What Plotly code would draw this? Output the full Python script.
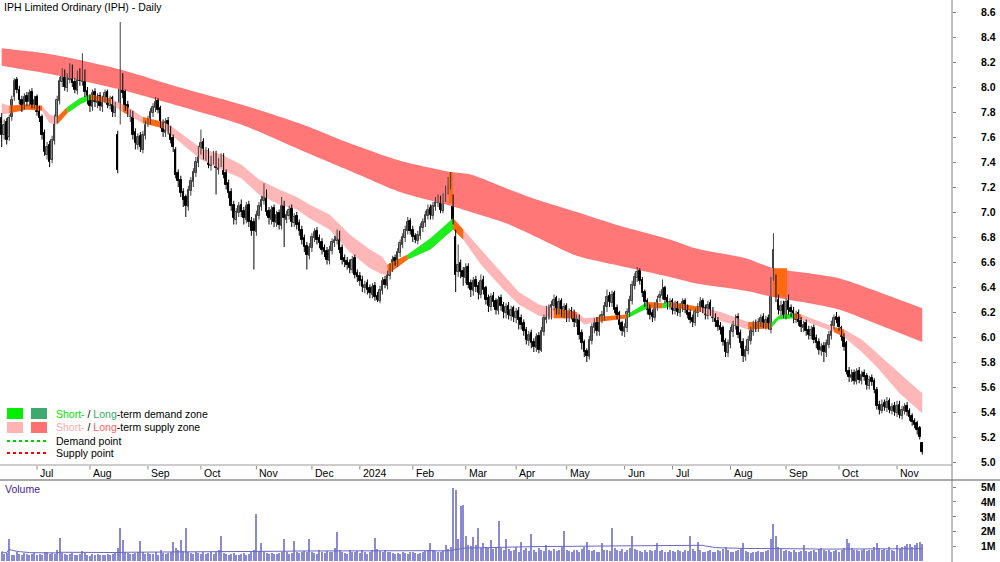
import pandas as pd
import plotly.graph_objects as go

# ---------------- data ----------------
START, END = "2023-06-13", "2024-11-15"
asx_holidays = ["2023-12-25", "2023-12-26", "2024-01-01", "2024-01-26",
                "2024-03-29", "2024-04-01", "2024-04-25", "2024-06-10"]
month_labels = ["Jul", "Aug", "Sep", "Oct", "Nov", "Dec", "2024", "Feb", "Mar",
                "Apr", "May", "Jun", "Jul", "Aug", "Sep", "Oct", "Nov"]

# prices in cents
open_c = [
775,762,772,760,776,792,806,798,790,785, 793,788,796,786,792,782,776,763,746,754,
742,757,774,789,804,812,799,806,816,804, 797,812,804,812,797,791,784,796,787,793,
784,790,796,785,791,779,762,786,808,796, 786,776,778,764,754,761,750,761,771,773,
779,783,789,783,771,763,773,767,759,750, 731,726,716,712,704,717,724,731,739,749,
756,744,749,737,741,746,734,739,745,731, 723,716,706,694,699,706,701,694,706,693,
692,684,697,704,709,716,701,694,703,691, 699,689,706,694,697,703,691,697,691,686,
679,673,665,671,679,685,679,676,671,669, 661,669,675,677,683,671,663,661,659,654,
663,651,649,646,639,643,639,634,641,633, 629,637,646,641,649,655,663,659,667,674,
679,685,693,686,681,677,681,687,691,697, 703,697,704,707,711,701,711,717,721,712,
680,652,659,653,647,656,643,637,646,641, 634,646,639,631,624,633,629,621,631,626,
619,625,617,623,615,621,615,611,606,597, 603,596,591,601,589,604,614,623,617,625,
631,621,629,619,625,615,621,619,611,616, 603,596,589,584,597,607,613,604,614,617,
624,633,627,635,623,619,611,604,607,619, 629,641,647,653,646,636,629,623,619,615,
624,631,633,639,631,625,629,621,627,619, 624,629,623,619,615,611,619,623,629,623,
617,627,621,616,613,609,607,597,587,594, 604,609,616,603,596,584,589,597,604,611,
607,611,616,609,615,606,648,646,630,621, 626,617,629,623,621,614,619,613,607,611,
606,601,607,599,596,589,593,587,594,601, 609,616,615,607,601,595,573,567,571,564,
573,565,571,569,561,567,565,558,546,541, 547,543,549,541,545,539,546,537,541,545,
541,537,533,531,527,515]
high_c = [
779,774,775,778,793,807,808,801,793,795, 796,798,799,793,794,785,778,766,756,757,
761,778,793,808,815,814,811,819,818,807, 813,815,827,814,800,794,798,799,795,796,
793,798,798,793,793,788,765,852,811,798, 789,782,781,767,763,764,765,773,777,783,
787,792,791,785,774,775,776,769,762,752, 734,729,719,714,721,728,735,744,753,766,
759,752,751,745,749,749,743,747,747,734, 726,719,709,703,708,710,704,708,709,696,
695,701,708,713,723,718,704,705,706,701, 702,712,709,701,705,706,699,700,694,689,
682,676,675,683,687,688,682,679,674,672, 673,679,681,686,685,674,666,664,662,665,
666,654,652,649,645,646,642,643,644,636, 641,648,649,653,659,665,666,671,678,683,
689,696,695,689,683,685,691,695,701,706, 706,708,712,714,713,715,721,728,732,714,
686,674,662,656,659,659,646,648,649,644, 650,649,641,634,635,636,631,633,634,628,
627,628,625,625,623,624,618,614,608,605, 606,599,603,604,608,618,625,626,629,634,
633,631,631,627,627,623,624,622,618,618, 606,598,591,601,611,615,616,618,621,628,
638,636,637,637,626,621,613,611,623,633, 645,651,656,655,648,638,631,626,622,628,
633,637,646,641,634,631,631,629,629,627, 631,631,626,622,618,623,627,632,631,626,
629,630,624,619,616,612,609,599,598,608, 613,618,619,606,599,593,601,608,613,614,
615,618,619,617,618,648,683,650,634,629, 629,631,634,626,624,621,622,616,613,614,
609,609,610,602,599,595,596,598,605,613, 618,620,617,609,603,597,576,574,574,575,
576,573,574,571,569,570,567,560,549,550, 550,552,551,547,548,549,549,545,547,548,
543,539,535,533,529,516]
low_c = [
752,758,754,757,773,789,795,786,780,782, 785,785,783,783,777,772,758,745,742,736,
739,754,771,786,800,797,796,803,800,795, 794,801,801,792,786,780,781,784,783,781,
780,787,783,782,776,776,731,770,791,781, 776,772,758,750,750,748,747,758,768,770,
776,780,779,767,760,760,762,755,748,727, 720,712,704,696,701,713,720,728,736,746,
742,741,735,733,738,714,730,736,727,718, 711,701,690,690,696,696,690,691,688,681,
654,681,694,701,706,697,690,690,688,688, 686,686,672,691,694,688,688,686,681,674,
668,654,662,668,676,674,671,666,664,658, 658,666,672,674,667,658,656,654,651,651,
647,644,641,636,635,634,631,631,629,628, 627,634,639,638,646,652,657,656,664,671,
676,682,682,676,675,674,678,684,688,694, 694,694,701,704,699,699,708,714,718,690,
636,648,647,641,643,639,632,633,636,630, 631,634,626,620,621,624,618,618,621,615,
615,614,613,612,611,606,606,601,594,593, 591,588,588,587,588,601,611,614,614,621,
618,618,616,615,612,612,614,608,608,598, 590,584,580,582,594,603,601,601,611,613,
620,624,624,619,614,606,601,600,604,616, 626,638,644,642,632,624,618,614,612,613,
621,628,630,627,622,622,618,618,617,616, 620,619,615,611,608,609,616,620,619,614,
614,617,612,608,605,602,593,584,584,591, 600,606,599,591,580,581,586,594,601,604,
604,608,607,606,606,603,645,628,618,617, 615,614,618,616,611,611,609,604,604,601,
598,598,595,591,586,585,580,584,591,598, 606,611,605,597,589,570,564,564,562,562,
563,562,565,558,558,561,555,542,538,539, 541,540,539,538,537,536,535,534,538,537,
533,529,527,522,518,506]
close_c = [
762,770,758,775,790,805,798,790,784,792, 788,795,786,790,780,775,762,748,752,740,
758,775,790,805,812,800,808,815,803,798, 810,805,812,796,790,785,795,788,792,785,
790,795,786,790,780,785,734,810,795,785, 780,778,762,755,760,752,762,770,774,780,
784,788,782,770,764,772,766,758,752,730, 725,715,710,705,718,725,732,740,750,755,
745,748,738,742,745,735,740,744,730,722, 715,705,695,700,705,700,695,705,692,685,
685,698,705,710,715,700,695,702,692,698, 690,705,695,698,702,692,696,690,685,678,
672,666,672,680,684,678,675,670,668,662, 670,676,678,682,670,662,660,658,655,662,
650,648,645,640,642,638,635,640,632,630, 638,645,642,650,656,662,660,668,675,680,
686,692,685,680,678,682,688,692,698,702, 698,705,708,710,702,712,718,722,725,694,
650,658,652,648,655,642,638,645,640,635, 645,638,630,625,632,628,622,630,625,620,
624,618,622,616,620,614,610,605,598,602, 595,592,600,590,605,615,622,618,626,630,
622,628,620,624,616,620,618,612,615,602, 595,588,585,598,608,612,605,615,618,625,
632,628,634,622,618,610,605,608,620,630, 642,648,652,645,635,628,622,618,616,625,
630,634,638,630,626,628,622,626,620,625, 628,622,618,614,612,620,624,628,622,618,
626,620,615,612,608,606,596,588,595,605, 610,615,602,595,585,590,598,605,610,608,
612,615,610,614,610,645,670,632,622,625, 618,628,622,620,615,618,612,608,610,605,
602,606,598,595,590,592,588,595,602,610, 615,614,608,600,592,572,568,570,565,572,
566,570,568,562,566,564,558,545,542,546, 544,548,542,544,540,545,538,542,544,540,
536,532,530,526,520,508]
# volume in thousands of shares
volume_k = [
620,480,540,1500,420,380,560,450,390,510, 430,360,480,520,410,470,390,560,620,480,
540,450,700,1550,520,430,380,460,510,420, 370,480,690,520,410,350,440,390,460,380,
420,360,470,390,430,520,880,2200,1400,620, 540,480,430,510,620,1350,560,470,520,430,
490,560,420,750,530,480,540,620,1270,880, 760,1400,650,2200,580,520,470,610,540,490,
580,450,520,610,480,560,700,1700,520,440, 380,460,520,420,390,480,530,410,470,560,
720,3200,640,1200,580,520,460,540,480,430, 510,620,1500,560,480,540,1350,620,520,590,
680,560,1500,620,540,480,720,560,510,640, 580,620,840,1950,760,620,540,480,720,610,
560,640,520,700,580,490,620,740,1550,820, 650,580,720,560,610,540,480,520,460,580,
520,480,560,620,540,470,510,580,640,720, 1200,760,640,580,620,700,1100,820,900,4950,
4800,1500,3700,3800,1700,1100,980,1600,1050,2200, 880,1200,940,860,1400,780,920,2700,860,740,
1500,820,680,760,900,620,1300,720,840,680, 1800,760,620,880,740,660,1100,720,640,820,
680,760,900,2000,720,640,580,700,760,620, 820,940,1300,760,680,720,620,580,1200,700,
760,680,2200,840,720,640,780,620,700,880, 1700,820,740,680,620,760,580,700,640,720,
1200,680,760,620,580,700,640,560,720,660, 600,740,680,1700,820,640,1300,720,600,560,
640,700,580,620,760,680,820,900,740,620, 560,640,720,800,1200,680,600,540,620,580,
640,560,600,680,720,1500,2500,1700,900,780, 680,760,640,600,720,560,620,680,1100,640,
600,680,740,620,780,840,720,640,700,600, 680,760,620,720,880,1500,1200,840,760,700,
640,720,800,680,760,700,900,1200,880,760, 820,700,900,760,680,1100,820,900,1000,1120,
1150,900,1100,1200,1250,1150]

# long-term supply zone (knots: bar index, top, bottom)
lt_idx = [0, 20, 47, 70, 95, 118, 138, 158, 178, 186, 200, 212, 228, 245, 265, 275, 295, 306, 320, 332, 345, 365]
lt_top = [8.31, 8.26, 8.14, 8.00, 7.86, 7.71, 7.55, 7.41, 7.32, 7.30, 7.19, 7.10, 7.00, 6.89, 6.78, 6.71, 6.63, 6.55, 6.51, 6.47, 6.38, 6.23]
lt_bot = [8.17, 8.10, 7.98, 7.85, 7.70, 7.50, 7.33, 7.16, 7.05, 7.00, 6.91, 6.80, 6.65, 6.57, 6.48, 6.43, 6.37, 6.32, 6.27, 6.22, 6.12, 5.96]
# orange highlights inside the long-term zone
lo_x0 = [177.4, 305.8]
lo_x1 = [178.8, 311.4]
lo_top = [7.32, 6.55]
lo_bot = [7.07, 6.32]

# short-term zone knots and the zone state starting at each knot (P supply, O touched, G demand)
st_idx = [0, 3, 10, 16, 19, 22, 26, 31, 35, 43, 48, 50, 56, 64, 67, 79, 87, 95, 102, 110, 117, 122, 130, 138,
          146, 151, 153, 161, 170, 179, 183, 190, 198, 205, 213, 219, 228, 231, 236, 248, 256, 262, 265, 277,
          285, 296, 305, 308, 314, 317, 330, 334, 341, 347, 356, 365]
st_top = [7.87, 7.85, 7.86, 7.85, 7.78, 7.76, 7.84, 7.91, 7.94, 7.91, 7.86, 7.84, 7.76, 7.72, 7.69, 7.51, 7.46, 7.38,
          7.26, 7.18, 7.12, 7.06, 6.98, 6.82, 6.70, 6.64, 6.58, 6.66, 6.79, 6.95, 6.86, 6.70, 6.52, 6.36, 6.26, 6.23,
          6.20, 6.15, 6.16, 6.18, 6.28, 6.27, 6.28, 6.24, 6.20, 6.12, 6.11, 6.17, 6.19, 6.18, 6.08, 6.06, 5.98, 5.87,
          5.71, 5.55]
st_bot = [7.78, 7.79, 7.82, 7.81, 7.71, 7.70, 7.79, 7.86, 7.90, 7.87, 7.80, 7.78, 7.71, 7.67, 7.62, 7.42, 7.34, 7.27,
          7.14, 7.06, 7.02, 6.95, 6.86, 6.68, 6.55, 6.50, 6.50, 6.62, 6.70, 6.86, 6.78, 6.58, 6.40, 6.26, 6.17, 6.15,
          6.15, 6.10, 6.12, 6.15, 6.23, 6.23, 6.24, 6.20, 6.13, 6.06, 6.07, 6.14, 6.15, 6.14, 6.04, 6.00, 5.88, 5.76,
          5.55, 5.39]
st_zone = ["P", "O", "O", "P", "P", "O", "G", "G", "O", "P", "O", "P", "O", "P", "P", "P", "P", "P", "P", "P", "P",
           "P", "P", "P", "P", "P", "O", "G", "G", "O", "P", "P", "P", "P", "P", "O", "P", "P", "O", "G", "O", "G",
           "O", "P", "P", "O", "G", "G", "O", "P", "O", "P", "P", "P", "P", "P"]

price_ticks = [5.0, 5.2, 5.4, 5.6, 5.8, 6.0, 6.2, 6.4, 6.6, 6.8, 7.0, 7.2, 7.4, 7.6, 7.8, 8.0, 8.2, 8.4, 8.6]
vol_ticks = [1000, 2000, 3000, 4000, 5000]
vol_tick_labels = ["1M", "2M", "3M", "4M", "5M"]

# ---------------- styling ----------------
FONT = "Liberation Sans, Arial, sans-serif"
LONG_SUPPLY = "#FF7777"
SHORT_SUPPLY = "#FFB6B6"
ORANGE = "#FF6A10"
GREEN = "#1EEE1E"
ZONE_COL = {"P": SHORT_SUPPLY, "O": ORANGE, "G": GREEN}
VOL_COL = "#8A8AD4"
UP_FILL, UP_LINE = "#ABABAB", "#404040"
DN_FILL, DN_LINE = "#000000", "#000000"

W, H, PLOT_W = 1000, 562, 952
PRICE_BOTTOM_PX, VOL_TOP_PX = 465, 480


def px_x(px):
    return px / PLOT_W


def px_y(py):
    return 1 - py / H


dates = [d for d in pd.bdate_range(START, END) if d.strftime("%Y-%m-%d") not in asx_holidays]
n = len(close_c)
dates = dates[:n]
idx = list(range(n))
month_pos = [i for i in range(1, n) if dates[i].month != dates[i - 1].month]

o = [v / 100 for v in open_c]
h = [v / 100 for v in high_c]
l = [v / 100 for v in low_c]
c = [v / 100 for v in close_c]
up = [cc >= oo for oo, cc in zip(o, c)]

fig = go.Figure()

# long-term zone
fig.add_trace(go.Scatter(x=lt_idx, y=lt_bot, mode="lines", line=dict(width=0, shape="spline", smoothing=0.7),
                         hoverinfo="skip", xaxis="x", yaxis="y"))
fig.add_trace(go.Scatter(x=lt_idx, y=lt_top, mode="lines", line=dict(width=0, shape="spline", smoothing=0.7),
                         fill="tonexty", fillcolor=LONG_SUPPLY, hoverinfo="skip", xaxis="x", yaxis="y"))
for x0, x1, t, b in zip(lo_x0, lo_x1, lo_top, lo_bot):
    fig.add_trace(go.Scatter(x=[x0, x1, x1, x0, x0], y=[t, t, b, b, t], mode="lines", line=dict(width=0),
                             fill="toself", fillcolor=ORANGE, hoverinfo="skip", xaxis="x", yaxis="y"))

# short-term zone: whole band, then coloured runs
fig.add_trace(go.Scatter(x=st_idx + st_idx[::-1], y=st_top + st_bot[::-1], mode="lines", line=dict(width=0),
                         fill="toself", fillcolor=SHORT_SUPPLY, hoverinfo="skip", xaxis="x", yaxis="y"))
k = 0
while k < len(st_idx) - 1:
    z = st_zone[k]
    j = k
    while j < len(st_idx) - 1 and st_zone[j] == z:
        j += 1
    if z != "P":
        xs = st_idx[k:j + 1]
        fig.add_trace(go.Scatter(x=xs + xs[::-1], y=st_top[k:j + 1] + st_bot[k:j + 1][::-1], mode="lines",
                                 line=dict(width=0), fill="toself", fillcolor=ZONE_COL[z], hoverinfo="skip",
                                 xaxis="x", yaxis="y"))
    k = j

# candle wicks (high-low lines), one trace per direction
for want_up, col in ((True, UP_LINE), (False, DN_LINE)):
    wx, wy = [], []
    for i in idx:
        if up[i] == want_up:
            wx += [i, i, None]
            wy += [l[i], h[i], None]
    fig.add_trace(go.Scatter(x=wx, y=wy, mode="lines", line=dict(color=col, width=1),
                             hoverinfo="skip", xaxis="x", yaxis="y"))

# candle bodies as floating bars
body_base = [min(oo, cc) for oo, cc in zip(o, c)]
body_len = [max(abs(cc - oo), 0.008) for oo, cc in zip(o, c)]
fig.add_trace(go.Bar(
    x=idx, y=body_len, base=body_base, width=0.62, xaxis="x", yaxis="y",
    marker=dict(color=[UP_FILL if u else DN_FILL for u in up],
                line=dict(color=[UP_LINE if u else DN_LINE for u in up], width=1)),
    hoverinfo="skip"))

# volume
fig.add_trace(go.Bar(x=idx, y=volume_k, xaxis="x2", yaxis="y2", marker=dict(color=VOL_COL, line=dict(width=0)),
                     width=0.4, hoverinfo="skip"))
vol_ma = pd.Series(volume_k).rolling(100, min_periods=1).mean()
fig.add_trace(go.Scatter(x=idx, y=vol_ma, mode="lines", line=dict(color="#6868C0", width=1),
                         xaxis="x2", yaxis="y2", hoverinfo="skip"))

shapes = []
# frame lines
shapes.append(dict(type="line", xref="paper", yref="paper", x0=0, x1=1, y0=px_y(PRICE_BOTTOM_PX), y1=px_y(PRICE_BOTTOM_PX),
                   line=dict(color="#9A9A9A", width=1)))
shapes.append(dict(type="line", xref="paper", yref="paper", x0=0, x1=W / PLOT_W, y0=px_y(VOL_TOP_PX), y1=px_y(VOL_TOP_PX),
                   line=dict(color="#555555", width=1)))
shapes.append(dict(type="line", xref="paper", yref="paper", x0=1, x1=1, y0=0, y1=1,
                   line=dict(color="#808080", width=1)))
# month tick marks
for p in month_pos:
    shapes.append(dict(type="line", xref="x", yref="paper", x0=p, x1=p, y0=px_y(466), y1=px_y(469.5),
                       line=dict(color="#888888", width=1)))
# legend swatches
sw = [(7, 408, 23, 419, "#00EE00"), (31, 408, 47, 419, "#3CAA6E"),
      (7, 422, 23, 433, "#FFB3B3"), (31, 422, 47, 433, "#FF7070")]
for x0, y0, x1, y1, col in sw:
    shapes.append(dict(type="rect", xref="paper", yref="paper", x0=px_x(x0), x1=px_x(x1), y0=px_y(y1), y1=px_y(y0),
                       fillcolor=col, line=dict(width=0)))
shapes.append(dict(type="line", xref="paper", yref="paper", x0=px_x(7), x1=px_x(47), y0=px_y(441), y1=px_y(441),
                   line=dict(color="#00CC00", width=2, dash="dot")))
shapes.append(dict(type="line", xref="paper", yref="paper", x0=px_x(7), x1=px_x(47), y0=px_y(453), y1=px_y(453),
                   line=dict(color="#FF0000", width=2, dash="dot")))

ann = []
base_font = dict(family=FONT, size=10.5, color="#000000")
bold_font = dict(family=FONT, size=10.5, color="#000000", weight="bold")
ann.append(dict(text="IPH Limited Ordinary (IPH) - Daily", xref="paper", yref="paper", x=px_x(2), y=px_y(7),
                xanchor="left", yanchor="middle", showarrow=False, font=base_font))
ann.append(dict(text="Volume", xref="paper", yref="paper", x=px_x(3), y=px_y(489),
                xanchor="left", yanchor="middle", showarrow=False,
                font=dict(family=FONT, size=10.5, color="#4B1C8C")))
for p, lab in zip(month_pos, month_labels):
    ann.append(dict(text=lab, xref="x", yref="paper", x=p, y=px_y(473), xanchor="left", yanchor="middle",
                    xshift=1, showarrow=False, font=base_font))
for v in price_ticks:
    ann.append(dict(text=f"{v:.1f}", xref="paper", yref="y", x=px_x(998), y=v, xanchor="right", yanchor="middle",
                    showarrow=False, font=bold_font))
for v, lab in zip(vol_ticks, vol_tick_labels):
    ann.append(dict(text=lab, xref="paper", yref="y2", x=px_x(998), y=v, xanchor="right", yanchor="middle",
                    showarrow=False, font=bold_font))
legend_rows = [
    (414, "<span style='color:#00DD00'>Short-</span> / <span style='color:#33AA66'>Long</span>-term demand zone"),
    (427, "<span style='color:#FFAAAA'>Short-</span> / <span style='color:#FF6060'>Long</span>-term supply zone"),
    (441, "Demand point"),
    (453, "Supply point"),
]
for py, txt in legend_rows:
    ann.append(dict(text=txt, xref="paper", yref="paper", x=px_x(54), y=px_y(py), xanchor="left", yanchor="middle",
                    showarrow=False, font=base_font))

fig.update_layout(
    width=W, height=H, margin=dict(l=0, r=W - PLOT_W, t=0, b=0),
    paper_bgcolor="white", plot_bgcolor="white", showlegend=False, bargap=0, barmode="overlay",
    xaxis=dict(domain=[0, 1], range=[-0.67, 376.8], anchor="y", showticklabels=False, showgrid=False,
               zeroline=False, showline=False, ticks=""),
    yaxis=dict(domain=[px_y(PRICE_BOTTOM_PX), 1], range=[4.976, 8.696], side="right", anchor="x",
               showgrid=False, zeroline=False, showline=False, showticklabels=False,
               ticks="outside", ticklen=3, tickcolor="#808080", tickvals=price_ticks),
    xaxis2=dict(domain=[0, 1], matches="x", anchor="y2", showticklabels=False, showgrid=False,
                zeroline=False, showline=False, ticks=""),
    yaxis2=dict(domain=[0, px_y(VOL_TOP_PX)], range=[-85, 5475], side="right", anchor="x2",
                showgrid=False, zeroline=False, showline=False, showticklabels=False,
                ticks="outside", ticklen=3, tickcolor="#808080", tickvals=vol_ticks),
    shapes=shapes, annotations=ann,
)

fig.write_html("out.html")
